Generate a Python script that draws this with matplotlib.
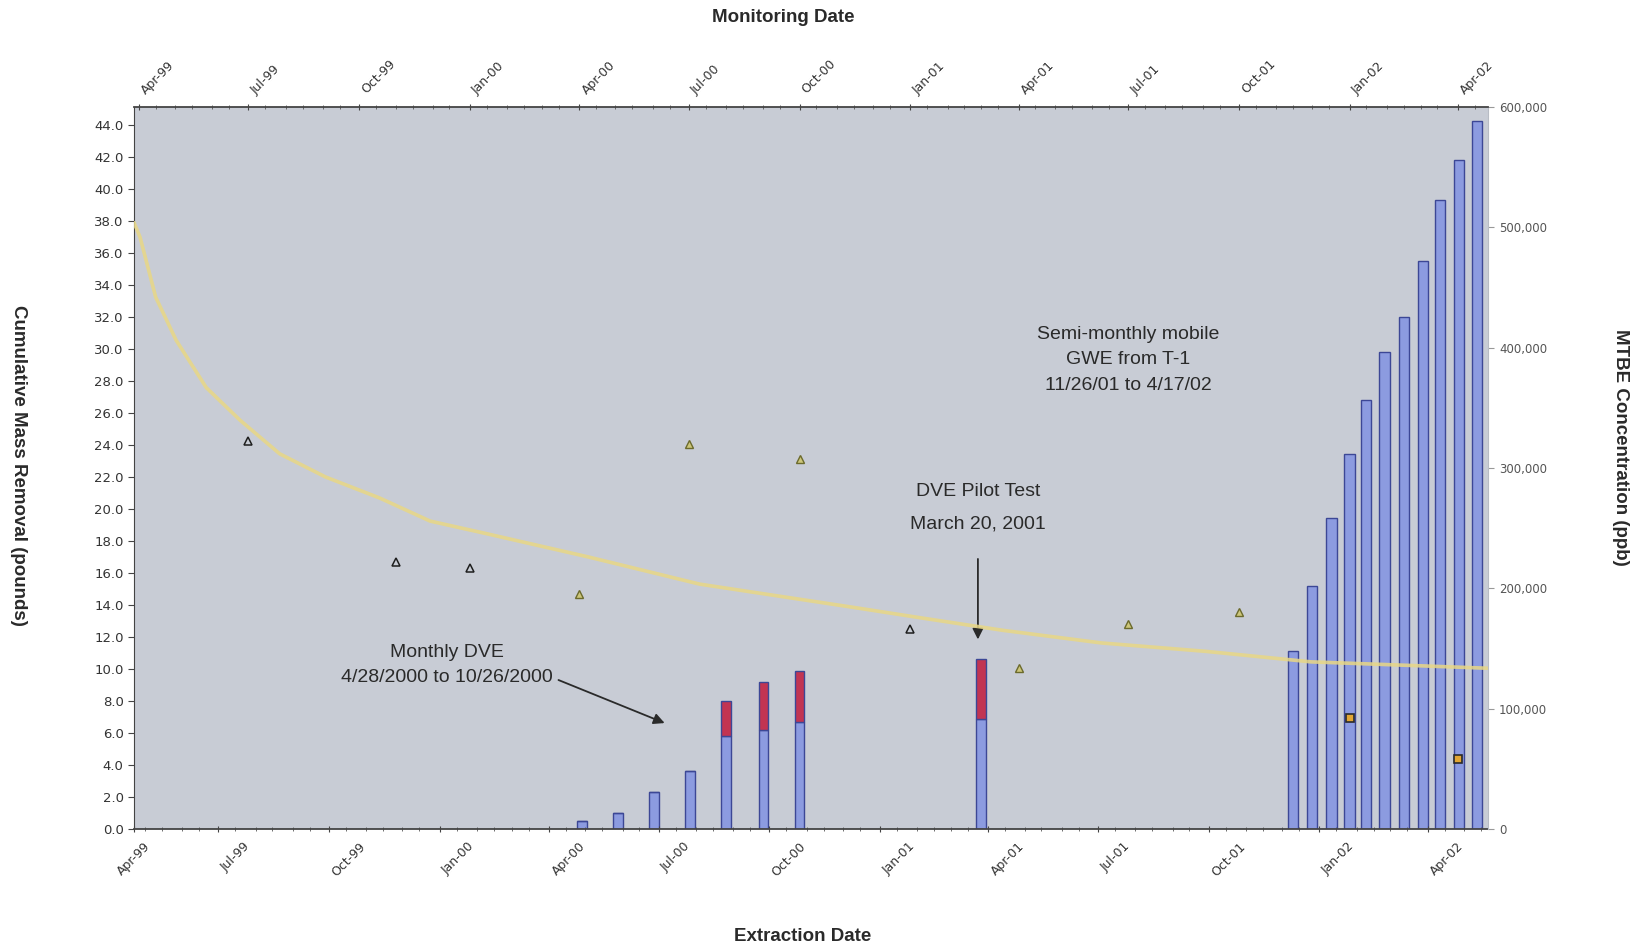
import matplotlib
matplotlib.use("Agg")
import matplotlib.pyplot as plt
import matplotlib.dates as mdates
import matplotlib.ticker as mticker
import pandas as pd

# Extraction events (bottom axis) - cumulative mass removal, pounds
dve_dates = ["2000-04-28", "2000-05-28", "2000-06-27", "2000-07-27",
             "2000-08-26", "2000-09-26", "2000-10-26", "2001-03-26"]
dve_lower = [0.5, 1.0, 2.3, 3.6, 5.8, 6.2, 6.7, 6.9]
dve_upper = [0.0, 0.0, 0.0, 0.0, 2.2, 3.0, 3.2, 3.7]

gwe_dates = ["2001-12-10", "2001-12-26", "2002-01-11", "2002-01-26", "2002-02-09",
             "2002-02-24", "2002-03-12", "2002-03-28", "2002-04-11", "2002-04-27",
             "2002-05-12"]
gwe_mass = [11.1, 15.2, 19.4, 23.4, 26.8, 29.8, 32.0, 35.5, 39.3, 41.8, 44.2]

# Monitoring (top axis) - MTBE concentration, ppb
mon_dates_a = ["1999-07-01", "1999-11-01", "2000-01-01", "2001-01-01"]
mtbe_a = [322700, 222000, 217300, 166500]
mon_dates_b = ["2000-04-01", "2000-07-01", "2000-10-01", "2001-04-01",
               "2001-07-01", "2001-10-01"]
mtbe_b = [195100, 320000, 307500, 134000, 170700, 180000]
mon_dates_sq = ["2002-01-01", "2002-04-01"]
mtbe_sq = [92000, 58000]

# Trend line
trend_dates = ["1999-03-28", "1999-04-02", "1999-04-15", "1999-05-02", "1999-05-27",
               "1999-06-24", "1999-07-27", "1999-09-03", "1999-10-18", "1999-11-29",
               "2000-01-15", "2000-02-22", "2000-04-08", "2000-07-10", "2000-11-14",
               "2001-01-09", "2001-03-19", "2001-06-09", "2001-09-04", "2001-11-30",
               "2002-04-26"]
trend_mtbe = [503900, 491700, 441900, 406100, 366800, 339800, 311800, 292600, 275100,
              255900, 245400, 236700, 226200, 203500, 184300, 175600, 165100, 154600,
              147600, 138900, 133600]

bottom_lim = ("1999-04-22", "2002-05-21")
top_lim = ("1999-03-28", "2002-04-26")

# Colors
bg = "#c8ccd5"
blue = "#8c9be0"
blue_edge = "#3c4796"
red = "#c23452"
trend_col = "#e8d785"

plt.rcParams["font.family"] = ["DejaVu Sans"]

fig = plt.figure(figsize=(16.45, 9.47), dpi=100)
rect = [0.0815, 0.1246, 0.823, 0.7624]
ax = fig.add_axes(rect)
ax2 = fig.add_axes(rect)
ax2.patch.set_visible(False)
ax.set_facecolor(bg)

# Bars (primary axes)
dve_x = pd.to_datetime(dve_dates)
gwe_x = pd.to_datetime(gwe_dates)
ax.bar(dve_x, dve_lower, width=8, color=blue, edgecolor=blue_edge, linewidth=1)
ax.bar(dve_x, dve_upper, width=8, bottom=dve_lower, color=red, edgecolor=blue_edge, linewidth=1)
ax.bar(gwe_x, gwe_mass, width=8.5, color=blue, edgecolor=blue_edge, linewidth=1)

ax.set_xlim(pd.to_datetime(bottom_lim[0]), pd.to_datetime(bottom_lim[1]))
ax.set_ylim(0, 45.1)

# Secondary series (top x / right y)
ax2.plot(pd.to_datetime(trend_dates), trend_mtbe, color=trend_col, lw=2.6, alpha=0.85,
         solid_capstyle="round", solid_joinstyle="round")
ax2.plot(pd.to_datetime(mon_dates_a), mtbe_a, ls="none", marker="^", ms=6,
         mfc="none", mec="#1e1e1e", mew=1.1)
ax2.plot(pd.to_datetime(mon_dates_b), mtbe_b, ls="none", marker="^", ms=6,
         mfc="#cdc67a", mec="#6b6a2c", mew=1.0)
ax2.plot(pd.to_datetime(mon_dates_sq), mtbe_sq, ls="none", marker="s", ms=6,
         mfc="#e2a633", mec="#2a2a2a", mew=1.2)

ax2.set_xlim(pd.to_datetime(top_lim[0]), pd.to_datetime(top_lim[1]))
ax2.set_ylim(0, 600000)

# Spines
for s in ["top", "right"]:
    ax.spines[s].set_visible(False)
for s in ["left", "bottom"]:
    ax2.spines[s].set_visible(False)
ax.spines["left"].set_color("#444444")
ax.spines["bottom"].set_color("#444444")
ax.spines["bottom"].set_linewidth(1.3)
ax2.spines["top"].set_color("#444444")
ax2.spines["top"].set_linewidth(1.3)
ax2.spines["right"].set_color("#b8bcc4")

# Left y axis
ax.yaxis.set_major_locator(mticker.MultipleLocator(2))
ax.yaxis.set_major_formatter(mticker.FormatStrFormatter("%.1f"))
ax.tick_params(axis="y", labelsize=9.5, labelcolor="#333333", length=4, color="#444444")

# Bottom x axis
qs = pd.date_range("1999-04-01", "2002-04-01", freq="QS-JAN")
xmin = pd.to_datetime(bottom_lim[0])
bottom_ticks = [max(d, xmin) for d in qs]
ax.xaxis.set_major_locator(mticker.FixedLocator(mdates.date2num(bottom_ticks)))
ax.xaxis.set_major_formatter(mticker.FixedFormatter([d.strftime("%b-%y") for d in qs]))
ax.xaxis.set_minor_locator(mdates.DayLocator(bymonthday=[1, 15]))
ax.tick_params(axis="x", which="major", labelsize=9, labelcolor="#333333",
               length=4, direction="inout", color="#444444", pad=6)
ax.tick_params(axis="x", which="minor", length=3, direction="inout", color="#555555")
for i, lab in enumerate(ax.get_xticklabels()):
    lab.set_rotation(45)
    lab.set_ha("center" if i == 0 else "left")

# Top x axis
ax2.xaxis.tick_top()
ax2.xaxis.set_major_locator(mdates.MonthLocator(bymonth=[1, 4, 7, 10]))
ax2.xaxis.set_major_formatter(mdates.DateFormatter("%b-%y"))
ax2.xaxis.set_minor_locator(mdates.DayLocator(bymonthday=[1, 15]))
ax2.tick_params(axis="x", which="major", labelsize=9, labelcolor="#333333",
                length=5, direction="inout", color="#444444", pad=5)
ax2.tick_params(axis="x", which="minor", length=3, direction="inout", color="#555555")
for lab in ax2.get_xticklabels():
    lab.set_rotation(45)
    lab.set_ha("left")

# Right y axis
ax2.yaxis.tick_right()
ax2.yaxis.set_major_locator(mticker.MultipleLocator(100000))
ax2.yaxis.set_major_formatter(mticker.FuncFormatter(lambda v, p: f"{v:,.0f}"))
ax2.tick_params(axis="y", labelsize=8.5, labelcolor="#555555", length=4,
                color="#999999", pad=4)

# Annotations
note_font = dict(family="Liberation Sans", fontsize=14, color="#2a2a2a")
ax.text(0.231, 0.2275, "Monthly DVE\n4/28/2000 to 10/26/2000", transform=ax.transAxes,
        ha="center", va="center", linespacing=1.65, **note_font)
ax.annotate("", xy=(0.3938, 0.1453), xytext=(0.3116, 0.2078), xycoords="axes fraction",
            arrowprops=dict(arrowstyle="-|>", color="#2a2a2a", lw=1.3, mutation_scale=16))
ax.text(0.6233, 0.4455, "DVE Pilot Test\nMarch 20, 2001", transform=ax.transAxes,
        ha="center", va="center", linespacing=2.2, **note_font)
ax.annotate("", xy=(0.6233, 0.2587), xytext=(0.6233, 0.3779), xycoords="axes fraction",
            arrowprops=dict(arrowstyle="-|>", color="#2a2a2a", lw=1.3, mutation_scale=16))
ax.text(0.7341, 0.6497, "Semi-monthly mobile\nGWE from T-1\n11/26/01 to 4/17/02",
        transform=ax.transAxes, ha="center", va="center", linespacing=1.65, **note_font)

# Axis titles
title_font = dict(family="Liberation Sans", fontsize=13.5, fontweight="bold", color="#2a2a2a")
fig.text(0.476, 0.981, "Monitoring Date", ha="center", va="center", **title_font)
fig.text(0.488, 0.0116, "Extraction Date", ha="center", va="center", **title_font)
fig.text(0.0115, 0.509, "Cumulative Mass Removal (pounds)", rotation=-90,
         ha="center", va="center", **title_font)
fig.text(0.985, 0.528, "MTBE Concentration (ppb)", rotation=-90,
         ha="center", va="center", **title_font)

fig.savefig("out.png", dpi=100, facecolor="white")
